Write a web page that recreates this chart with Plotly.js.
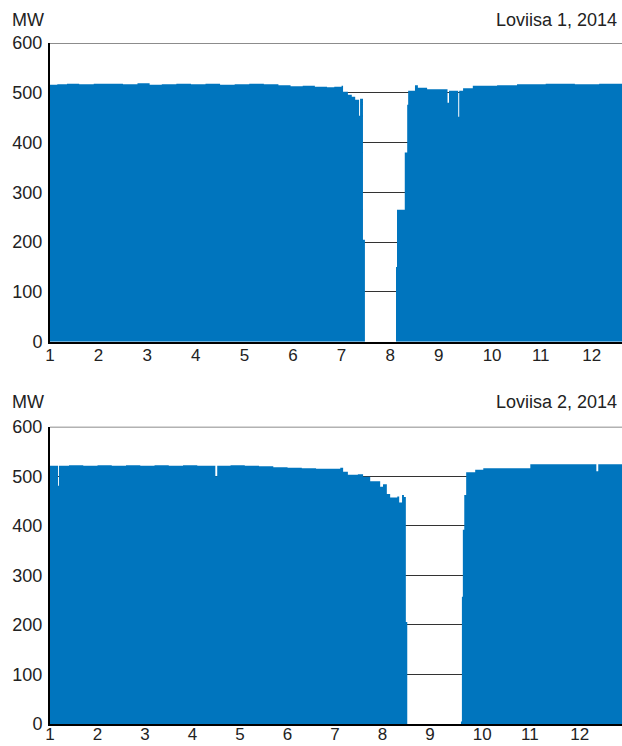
<!DOCTYPE html>
<html><head><meta charset="utf-8">
<script src="https://cdn.plot.ly/plotly-3.0.1.min.js"></script>
<style>html,body{margin:0;padding:0;background:#fff}</style>
</head><body><div id="chart" style="width:622px;height:746px"></div>
<script>
// month positions (1 = start of January) and labels
const monthTicks = [1,2,3,4,5,6,7,8,9,10,11,12];
const monthLabels = ['1','2','3','4','5','6','7','8','9','\u00a0\u00a010','\u00a0\u00a011','\u00a0\u00a0\u00a012'];
const mwTicks = [0,100,200,300,400,500,600];

// Loviisa 1, 2014 — net output (MW), step values starting at the given month position
const unit1X = [1.00,1.15,1.35,1.60,1.90,2.20,2.50,2.80,3.05,3.30,3.60,3.90,4.20,4.50,4.80,5.10,5.40,5.70,5.95,6.20,6.45,6.70,6.85,
  7.00,7.03,7.13,7.21,7.28,7.36,7.38,7.44,7.48,8.12,8.14,8.30,8.35,8.37,8.51,8.57,8.76,9.18,9.21,9.40,9.42,9.50,9.70,10.20,10.61,11.20,11.80,12.30,12.77];
const unit1MW = [516,517,518,517,518,518,517,519,516,517,518,517,518,516,517,518,517,515,513,514,512,511,512,
  514,502,496,492,486,454,488,205,0,150,265,380,476,504,515,510,507,480,504,452,504,509,514,515,517,518,517,518,518];

// Loviisa 2, 2014
const unit2X = [1.00,1.17,1.19,1.40,1.70,2.00,2.30,2.60,2.90,3.20,3.50,3.80,4.10,4.40,4.48,4.52,4.80,5.10,5.40,5.70,6.00,6.30,6.60,6.89,
  7.11,7.17,7.27,7.48,7.59,7.74,7.95,8.01,8.09,8.16,8.31,8.35,8.41,8.45,8.49,8.52,9.65,9.67,9.69,9.72,9.76,9.95,10.12,11.11,12.50,12.54,13.04];
const unit2MW = [521,481,521,522,521,522,521,522,521,522,521,522,521,521,500,521,522,521,520,518,517,516,515,515,
  517,509,503,504,499,490,479,484,464,457,459,447,462,458,206,0,5,257,392,462,508,513,516,524,510,524,524];

const blue = '#0075BE';
const font = {family: 'Liberation Sans, Arial, sans-serif', size: 18, color: '#222'};
const xFont = {family: 'Liberation Sans, Arial, sans-serif', size: 17, color: '#222'};

const traces = [
  {x: unit1X, y: unit1MW, type: 'scatter', mode: 'lines', line: {shape: 'hv', width: 0, color: blue},
   fill: 'tozeroy', fillcolor: blue, xaxis: 'x', yaxis: 'y', hoverinfo: 'skip'},
  {x: unit2X, y: unit2MW, type: 'scatter', mode: 'lines', line: {shape: 'hv', width: 0, color: blue},
   fill: 'tozeroy', fillcolor: blue, xaxis: 'x2', yaxis: 'y2', hoverinfo: 'skip'}
];

const xBase = {tickmode: 'array', tickvals: monthTicks, ticktext: monthLabels, ticks: '', showgrid: false,
  zeroline: false, showline: true, linecolor: '#000', linewidth: 2, tickfont: xFont, fixedrange: true};
const yBase = {tickmode: 'array', tickvals: mwTicks, ticks: '', showgrid: true, gridcolor: '#333', gridwidth: 1,
  zeroline: false, showline: true, linecolor: '#000', linewidth: 2, tickfont: font, range: [0, 600], fixedrange: true,
  ticklabelstandoff: 2};

const layout = {
  width: 622, height: 746, showlegend: false,
  paper_bgcolor: '#fff', plot_bgcolor: '#fff', font: font,
  margin: {l: 50, r: 0, t: 43, b: 22},
  xaxis: Object.assign({}, xBase, {anchor: 'y', domain: [0, 1], range: [1, 12.77], ticklabelstandoff: -3}),
  yaxis: Object.assign({}, yBase, {anchor: 'x', domain: [0.5614, 1]}),
  xaxis2: Object.assign({}, xBase, {anchor: 'y2', domain: [0, 1], range: [1, 13.04], ticklabelstandoff: -6}),
  yaxis2: Object.assign({}, yBase, {anchor: 'x2', domain: [0, 0.4366]}),
  shapes: [
    {type: 'line', xref: 'x domain', yref: 'y', x0: 0, x1: 1, y0: 600, y1: 600, line: {color: '#666', width: 1.5}},
    {type: 'line', xref: 'x2 domain', yref: 'y2', x0: 0, x1: 1, y0: 600, y1: 600, line: {color: '#666', width: 1.5}}
  ],
  annotations: [
    {text: 'MW', xref: 'paper', yref: 'paper', x: -40/572, y: (724-20)/681, xanchor: 'left', yanchor: 'middle', showarrow: false, font: font},
    {text: 'Loviisa 1, 2014', xref: 'paper', yref: 'paper', x: 569/572, y: (724-20)/681, xanchor: 'right', yanchor: 'middle', showarrow: false, font: font},
    {text: 'MW', xref: 'paper', yref: 'paper', x: -40/572, y: (724-402)/681, xanchor: 'left', yanchor: 'middle', showarrow: false, font: font},
    {text: 'Loviisa 2, 2014', xref: 'paper', yref: 'paper', x: 569/572, y: (724-402)/681, xanchor: 'right', yanchor: 'middle', showarrow: false, font: font}
  ]
};

Plotly.newPlot('chart', traces, layout, {displayModeBar: false, staticPlot: true});
</script>
</body></html>
